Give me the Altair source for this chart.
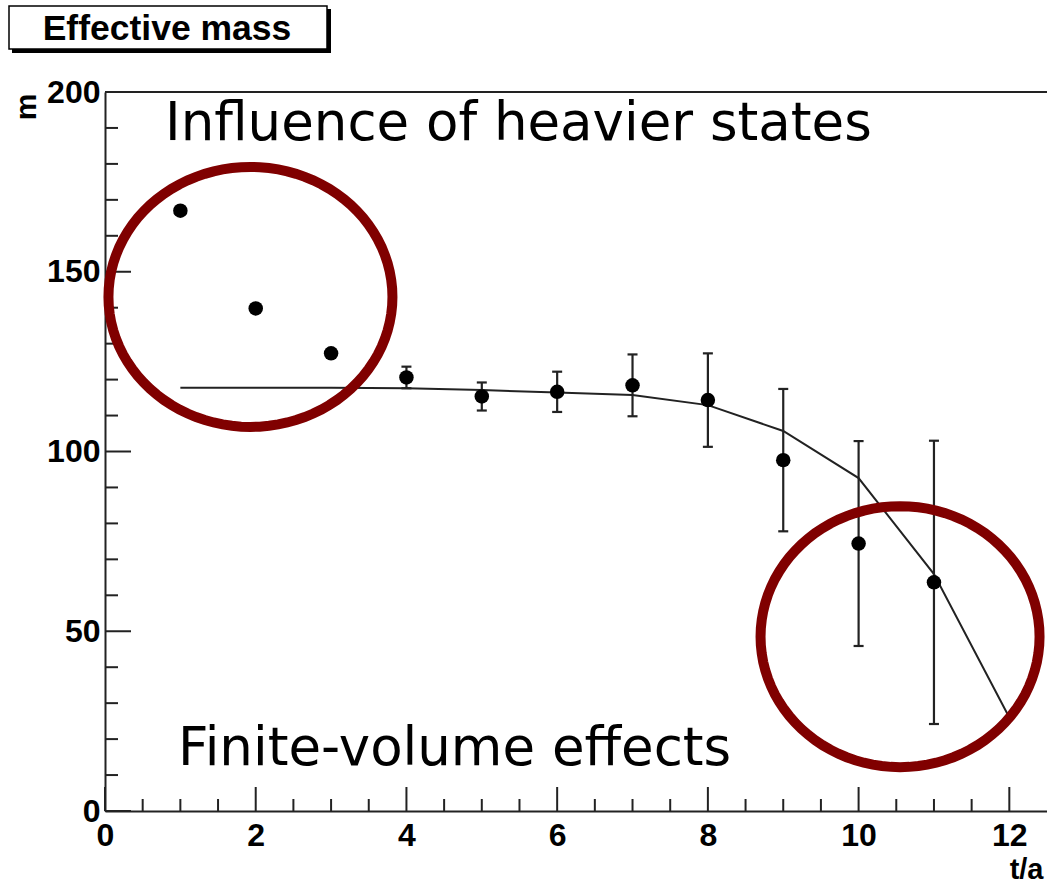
import altair as alt
import pandas as pd
import numpy as np

# ---- data ----
t_vals = [1, 2, 3, 4, 5, 6, 7, 8, 9, 10, 11]
m_vals = [167.0, 139.8, 127.3, 120.6, 115.3, 116.6, 118.4, 114.3, 97.6, 74.4, 63.6]
m_err = [0.5, 0.5, 0.5, 3.0, 3.9, 5.6, 8.6, 13.0, 19.8, 28.5, 39.4]

fit_t = [1, 2, 3, 4, 5, 6, 7, 8, 9, 10, 11, 12]
fit_m = [117.7, 117.7, 117.7, 117.6, 117.1, 116.4, 115.7, 112.9, 105.7, 92.6, 65.9, 26.0]

x_major = [0, 2, 4, 6, 8, 10, 12]
x_minor = [0.5, 1, 1.5, 2.5, 3, 3.5, 4.5, 5, 5.5, 6.5, 7, 7.5, 8.5, 9, 9.5,
           10.5, 11, 11.5]
y_major = [0, 50, 100, 150, 200]
y_minor = [10, 20, 30, 40, 60, 70, 80, 90, 110, 120, 130, 140, 160, 170, 180, 190]

circle_x = [1.93, 10.55]
circle_y = [143.0, 48.5]

title_text = "Effective mass"
note_top = "Influence of heavier states"
note_bottom = "Finite-volume effects"
x_title = "t/a"
y_title = "m"

W, H = 942, 719
X_DOMAIN = [0, 12.5]
Y_DOMAIN = [0, 200]

pts = pd.DataFrame({"t": t_vals, "m": m_vals, "err": m_err})
pts["lo"] = pts["m"] - pts["err"]
pts["hi"] = pts["m"] + pts["err"]
fit = pd.DataFrame({"t": fit_t, "m": fit_m})

xs = alt.Scale(domain=X_DOMAIN, nice=False, zero=False)
ys = alt.Scale(domain=Y_DOMAIN, nice=False, zero=False)

LABEL_FONT = "Liberation Sans"
xaxis = alt.Axis(values=x_major, format="d", tickSize=0, labelFont=LABEL_FONT,
                 labelFontWeight="bold", labelFontSize=32, labelColor="black",
                 labelPadding=9, domainColor="#222", domainWidth=2, grid=False,
                 labelFlush=False, labelOverlap=False,
                 title=x_title, titleFont=LABEL_FONT, titleFontWeight="bold",
                 titleFontSize=29, titleColor="black", titleAnchor="end",
                 titleAlign="right", titleBaseline="alphabetic",
                 titleX=W - 4, titleY=67)
yaxis = alt.Axis(values=y_major, format="d", tickSize=0, labelFont=LABEL_FONT,
                 labelFontWeight="bold", labelFontSize=32, labelColor="black",
                 labelPadding=5, domainColor="#222", domainWidth=2, grid=False,
                 labelFlush=False, labelOverlap=False,
                 title=y_title, titleFont=LABEL_FONT, titleFontWeight="bold",
                 titleFontSize=30, titleColor="black", titleAngle=270,
                 titleAlign="right", titleBaseline="middle",
                 titleX=-79, titleY=1)


def X(field):
    return alt.X(field, type="quantitative", scale=xs, axis=xaxis)


def Y(field):
    return alt.Y(field, type="quantitative", scale=ys, axis=yaxis)


# frame top line
frame_top = alt.Chart(pd.DataFrame({"v": [Y_DOMAIN[1]]})).mark_rule(
    color="#222", strokeWidth=2).encode(y=Y("v"))

# inward ticks
xt_major = alt.Chart(pd.DataFrame({"v": x_major})).mark_rule(
    color="#222", strokeWidth=2).encode(x=X("v"), y=alt.value(H), y2=alt.value(H - 24))
xt_minor = alt.Chart(pd.DataFrame({"v": x_minor})).mark_rule(
    color="#222", strokeWidth=2).encode(x=X("v"), y=alt.value(H), y2=alt.value(H - 12))
yt_major = alt.Chart(pd.DataFrame({"v": y_major})).mark_rule(
    color="#222", strokeWidth=2).encode(y=Y("v"), x=alt.value(0), x2=alt.value(26))
yt_minor = alt.Chart(pd.DataFrame({"v": y_minor})).mark_rule(
    color="#222", strokeWidth=2).encode(y=Y("v"), x=alt.value(0), x2=alt.value(13))

# fit curve
fit_line = alt.Chart(fit).mark_line(color="#222", strokeWidth=2).encode(
    x=X("t"), y=Y("m"))

# error bars
ebar = alt.Chart(pts).mark_rule(color="#222", strokeWidth=2.2).encode(
    x=X("t"), y=Y("lo"), y2="hi")
cap_lo = alt.Chart(pts).mark_rule(color="#222", strokeWidth=2.2, xOffset=-5,
                                  x2Offset=5).encode(x=X("t"), x2="t", y=Y("lo"))
cap_hi = alt.Chart(pts).mark_rule(color="#222", strokeWidth=2.2, xOffset=-5,
                                  x2Offset=5).encode(x=X("t"), x2="t", y=Y("hi"))

points = alt.Chart(pts).mark_circle(color="black", opacity=1, size=210).encode(
    x=X("t"), y=Y("m"))


# ellipses (annotation shapes)
def ellipse_path(ratio, n=96):
    ang = np.linspace(0, 2 * np.pi, n, endpoint=False)
    pts_s = ["{:.4f},{:.4f}".format(np.cos(a), ratio * np.sin(a)) for a in ang]
    return "M" + "L".join(pts_s) + "Z"


circ_df = pd.DataFrame({"t": circle_x, "m": circle_y})
left_circ = alt.Chart(circ_df.iloc[[0]]).mark_point(
    shape=ellipse_path(130 / 142), size=(2 * 142) ** 2, filled=False,
    stroke="#800000", strokeWidth=10, opacity=1).encode(x=X("t"), y=Y("m"))
right_circ = alt.Chart(circ_df.iloc[[1]]).mark_point(
    shape=ellipse_path(130.5 / 139.5), size=(2 * 139.5) ** 2, filled=False,
    stroke="#800000", strokeWidth=10, opacity=1).encode(x=X("t"), y=Y("m"))

# text annotations
txt_df = pd.DataFrame({"label": [note_top]})
top_note = alt.Chart(txt_df).mark_text(
    font="DejaVu Sans", fontSize=53, align="left", baseline="alphabetic",
    color="black").encode(text="label:N", x=alt.value(60), y=alt.value(48))
bot_note = alt.Chart(pd.DataFrame({"label": [note_bottom]})).mark_text(
    font="DejaVu Sans", fontSize=53, align="left", baseline="alphabetic",
    color="black").encode(text="label:N", x=alt.value(73), y=alt.value(673))

# title box with shadow
box_df = pd.DataFrame({"label": [title_text]})
shadow = alt.Chart(box_df).mark_rect(color="black").encode(
    x=alt.value(-93), x2=alt.value(226), y=alt.value(-83), y2=alt.value(-39))
box = alt.Chart(box_df).mark_rect(fill="white", stroke="black", strokeWidth=1.5).encode(
    x=alt.value(-96), x2=alt.value(222), y=alt.value(-86), y2=alt.value(-43))
box_text = alt.Chart(box_df).mark_text(
    font=LABEL_FONT, fontWeight="bold", fontSize=35.5, align="center",
    baseline="alphabetic", color="black").encode(
    text="label:N", x=alt.value(62), y=alt.value(-52))

chart = alt.layer(
    frame_top, xt_major, xt_minor, yt_major, yt_minor,
    fit_line, ebar, cap_lo, cap_hi, points,
    left_circ, right_circ, top_note, bot_note,
    shadow, box, box_text,
).properties(
    width=W, height=H,
    autosize=alt.AutoSizeParams(type="none"),
    padding={"left": 105, "top": 92, "right": 0, "bottom": 74},
).configure_view(stroke=None).configure(background="white")

chart.save("out.html", embed_options={"renderer": "svg", "actions": False})
